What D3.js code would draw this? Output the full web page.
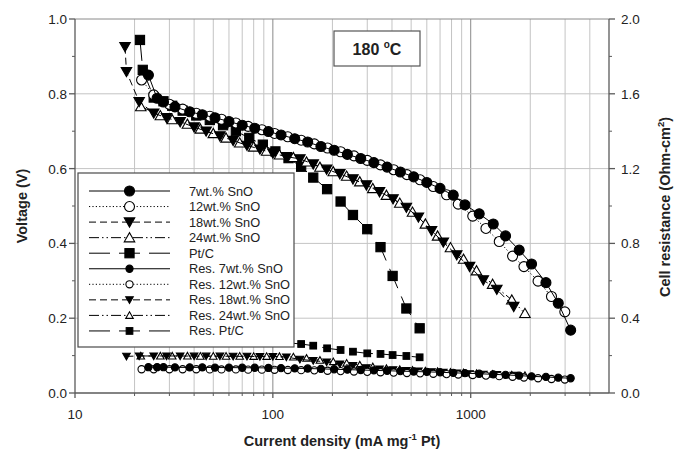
<!DOCTYPE html>
<html><head><meta charset="utf-8">
<script src="https://cdn.jsdelivr.net/npm/d3@7"></script>
<style>
body{margin:0;background:#fff}
svg{display:block}
text{font-family:"Liberation Sans",Arial,sans-serif;fill:#222}
</style>
</head><body>
<svg id="chart" width="679" height="453"></svg>
<script>
// ---- Polarization curves (voltage, V) ----
const cur7  = [23.5,26,28,32,38,44,51,60,70,81,95,110,129,150,175,204,238,278,324,378,441,515,600,700,816,935,1104,1300,1500,1758,2030,2400,2770,3200];
const volt7 = [0.850,0.788,0.778,0.765,0.752,0.744,0.736,0.726,0.716,0.708,0.699,0.690,0.680,0.671,0.659,0.649,0.638,0.627,0.616,0.604,0.591,0.578,0.563,0.547,0.529,0.503,0.479,0.452,0.420,0.382,0.345,0.295,0.240,0.168];

const cur12  = [21.7,25,30,35,41,48,55,65,75,88,102,119,139,162,189,220,257,300,350,408,476,555,647,755,865,1024,1194,1394,1628,1858,2190,2560,2990];
const volt12 = [0.837,0.797,0.772,0.759,0.748,0.740,0.732,0.722,0.713,0.704,0.694,0.685,0.676,0.666,0.655,0.645,0.634,0.622,0.610,0.597,0.584,0.570,0.552,0.530,0.505,0.473,0.440,0.405,0.366,0.338,0.299,0.258,0.217];

const cur18  = [17.9,18.2,21.1,25,29,34,40,46,54,63,74,86,100,117,137,160,187,218,254,297,346,405,473,544,634,727,850,987,1158,1355,1650];
const volt18 = [0.926,0.859,0.779,0.748,0.736,0.725,0.711,0.700,0.687,0.675,0.662,0.652,0.641,0.632,0.626,0.612,0.598,0.586,0.572,0.556,0.538,0.519,0.496,0.470,0.434,0.403,0.369,0.338,0.302,0.277,0.231];

const cur24  = [21.5,27,31,37,43,50,58,68,80,93,108,127,148,173,202,236,275,320,375,438,508,590,680,790,920,1070,1290,1613,1880];
const volt24 = [0.766,0.742,0.731,0.719,0.706,0.694,0.682,0.669,0.658,0.647,0.637,0.630,0.618,0.604,0.592,0.580,0.565,0.547,0.529,0.508,0.484,0.452,0.420,0.389,0.358,0.327,0.291,0.249,0.213];

const curPt  = [21.3,22,25,28,31,35,41,48,56,65,76,89,103,120,139,160,188,220,254,300,350,403,473,552];
const voltPt = [0.944,0.864,0.790,0.780,0.768,0.755,0.742,0.730,0.716,0.700,0.682,0.664,0.646,0.628,0.605,0.576,0.545,0.512,0.476,0.438,0.390,0.313,0.226,0.173];

// ---- Cell resistance (Ohm-cm2) ----
const res7   = [0.138,0.138,0.138,0.137,0.137,0.137,0.136,0.136,0.135,0.135,0.134,0.133,0.132,0.131,0.129,0.127,0.125,0.123,0.121,0.119,0.117,0.115,0.113,0.111,0.108,0.106,0.103,0.100,0.097,0.093,0.089,0.086,0.082,0.079];
const res12  = [0.127,0.127,0.127,0.127,0.127,0.126,0.126,0.126,0.125,0.125,0.124,0.123,0.122,0.121,0.119,0.117,0.115,0.113,0.111,0.109,0.107,0.105,0.103,0.101,0.099,0.096,0.093,0.090,0.087,0.083,0.079,0.075,0.072];

const resCur18 = [18.2,21.1,25,29,34,40,46,54,63,74,86,100,117,137,160,187,218,254,297,346,405,473,544,634,727,850,987,1158,1355,1650];
const res18    = [0.196,0.198,0.198,0.198,0.198,0.197,0.197,0.197,0.196,0.196,0.195,0.195,0.192,0.180,0.173,0.166,0.155,0.146,0.135,0.128,0.124,0.120,0.117,0.113,0.110,0.106,0.103,0.100,0.098,0.095];

const res24  = [0.198,0.198,0.198,0.198,0.197,0.197,0.197,0.197,0.196,0.196,0.195,0.193,0.186,0.175,0.168,0.160,0.150,0.140,0.131,0.126,0.122,0.118,0.115,0.111,0.108,0.104,0.100,0.097,0.094];

const resCurPt = [22,25,28,31,35,41,48,56,65,76,89,103,120,139,160,188,220,254,300,350,403,473,552];
const resPt    = [0.300,0.295,0.292,0.290,0.288,0.286,0.284,0.282,0.280,0.278,0.275,0.272,0.268,0.262,0.253,0.239,0.230,0.221,0.212,0.209,0.203,0.198,0.191];

// ---- Axis ticks ----
const xTickLabels = [10, 100, 1000];
const xMinorTicks = [20,30,40,50,60,70,80,90,200,300,400,500,600,700,800,900,2000,3000,4000];
const leftTicks  = [0.0,0.2,0.4,0.6,0.8,1.0];
const leftMinor  = [0.1,0.3,0.5,0.7,0.9];
const rightTicks = [0.0,0.4,0.8,1.2,1.6,2.0];
const rightMinor = [0.2,0.6,1.0,1.4,1.8];

const series = [
  {label:"7wt.% SnO",       cur:cur7,      val:volt7,  axis:"V", mark:"circle",   fill:true,  dash:null,              big:true},
  {label:"12wt.% SnO",      cur:cur12,     val:volt12, axis:"V", mark:"circle",   fill:false, dash:"1.2,2.2",         big:true},
  {label:"18wt.% SnO",      cur:cur18,     val:volt18, axis:"V", mark:"triDown",  fill:true,  dash:"7,4",             big:true},
  {label:"24wt.% SnO",      cur:cur24,     val:volt24, axis:"V", mark:"triUp",    fill:false, dash:"10,3,1.5,3,1.5,3", big:true},
  {label:"Pt/C",            cur:curPt,     val:voltPt, axis:"V", mark:"square",   fill:true,  dash:"21,9",            big:true},
  {label:"Res. 7wt.% SnO",  cur:cur7,      val:res7,   axis:"R", mark:"circle",   fill:true,  dash:null,              big:false},
  {label:"Res. 12wt.% SnO", cur:cur12,     val:res12,  axis:"R", mark:"circle",   fill:false, dash:"1.2,2.2",         big:false},
  {label:"Res. 18wt.% SnO", cur:resCur18,  val:res18,  axis:"R", mark:"triDown",  fill:true,  dash:"7,4",             big:false},
  {label:"Res. 24wt.% SnO", cur:cur24,     val:res24,  axis:"R", mark:"triUp",    fill:false, dash:"10,3,1.5,3,1.5,3", big:false},
  {label:"Res. Pt/C",       cur:resCurPt,  val:resPt,  axis:"R", mark:"square",   fill:true,  dash:"21,9",            big:false}
];

const svg = d3.select("#chart");
const L = 75, R = 609, T = 19, B = 393;
const x  = d3.scaleLog().domain([10, 5000]).range([L, R]);
const yV = d3.scaleLinear().domain([0, 1]).range([B, T]);
const yR = d3.scaleLinear().domain([0, 2]).range([B, T]);

// grid
const grid = svg.append("g");
grid.selectAll("line.vx").data(xMinorTicks).join("line")
  .attr("x1", d => x(d)).attr("x2", d => x(d)).attr("y1", T).attr("y2", B)
  .attr("stroke", "#c4c4c4").attr("stroke-width", 1);
grid.selectAll("line.vm").data([100, 1000]).join("line")
  .attr("x1", d => x(d)).attr("x2", d => x(d)).attr("y1", T).attr("y2", B)
  .attr("stroke", "#8a8a8a").attr("stroke-width", 1);
grid.selectAll("line.hy").data([0.2,0.4,0.6,0.8]).join("line")
  .attr("x1", L).attr("x2", R).attr("y1", d => yV(d)).attr("y2", d => yV(d))
  .attr("stroke", "#c4c4c4").attr("stroke-width", 1);

// marker drawing
function marker(g, type, fill, big, cx, cy) {
  const s = big ? 5 : 3.6;
  const style = el => el.attr("fill", fill ? "#000" : "#fff").attr("stroke", "#000").attr("stroke-width", 1.1);
  if (type === "circle") {
    style(g.append("circle").attr("cx", cx).attr("cy", cy).attr("r", s));
  } else if (type === "square") {
    const h = s * 0.92;
    style(g.append("rect").attr("x", cx - h).attr("y", cy - h).attr("width", 2*h).attr("height", 2*h));
  } else if (type === "triDown") {
    const w = s * 1.05;
    style(g.append("path").attr("d", `M${cx-w},${cy-w*0.8}L${cx+w},${cy-w*0.8}L${cx},${cy+w*0.95}Z`));
  } else {
    const w = s * 1.05;
    style(g.append("path").attr("d", `M${cx-w},${cy+w*0.8}L${cx+w},${cy+w*0.8}L${cx},${cy-w*0.95}Z`));
  }
}

// data
const plot = svg.append("g");
series.slice().reverse().forEach(s => {
  const yy = s.axis === "V" ? yV : yR;
  const pts = s.cur.map((c, i) => [x(c), yy(s.val[i])]);
  plot.append("path").attr("d", d3.line()(pts))
    .attr("fill", "none").attr("stroke", "#000").attr("stroke-width", 1)
    .attr("stroke-dasharray", s.dash);
  const mg = plot.append("g");
  pts.forEach(p => marker(mg, s.mark, s.fill, s.big, p[0], p[1]));
});

// axes
const ax = svg.append("g").attr("stroke", "#5a5a5a").attr("stroke-width", 1.3);
ax.append("line").attr("x1", L).attr("x2", R).attr("y1", B).attr("y2", B);
ax.append("line").attr("x1", L).attr("x2", R).attr("y1", T).attr("y2", T).attr("stroke","#8a8a8a").attr("stroke-width",1);
ax.append("line").attr("x1", L).attr("x2", L).attr("y1", T).attr("y2", B);
ax.append("line").attr("x1", R).attr("x2", R).attr("y1", T).attr("y2", B);
xTickLabels.forEach(v => ax.append("line").attr("x1", x(v)).attr("x2", x(v)).attr("y1", B).attr("y2", B + 5));
xMinorTicks.forEach(v => ax.append("line").attr("x1", x(v)).attr("x2", x(v)).attr("y1", B).attr("y2", B + 3).attr("stroke-width", 1));
leftTicks.forEach(v => ax.append("line").attr("x1", L - 6).attr("x2", L).attr("y1", yV(v)).attr("y2", yV(v)));
leftMinor.forEach(v => ax.append("line").attr("x1", L - 3).attr("x2", L).attr("y1", yV(v)).attr("y2", yV(v)).attr("stroke-width", 1));
rightTicks.forEach(v => ax.append("line").attr("x1", R).attr("x2", R + 6).attr("y1", yR(v)).attr("y2", yR(v)));
rightMinor.forEach(v => ax.append("line").attr("x1", R).attr("x2", R + 3).attr("y1", yR(v)).attr("y2", yR(v)).attr("stroke-width", 1));

const fmt = d3.format(".1f");
const lab = svg.append("g").attr("font-size", 13.5);
xTickLabels.forEach(v => lab.append("text").attr("x", x(v)).attr("y", 419).attr("text-anchor", "middle").text(v));
leftTicks.forEach(v => lab.append("text").attr("x", 67).attr("y", yV(v) + 5).attr("text-anchor", "end").text(fmt(v)));
rightTicks.forEach(v => lab.append("text").attr("x", 621).attr("y", yR(v) + 5).attr("text-anchor", "start").text(fmt(v)));

// axis titles
const xt = svg.append("text").attr("x", 342).attr("y", 446).attr("text-anchor", "middle")
  .attr("font-size", 14.5).attr("font-weight", "bold");
xt.append("tspan").text("Current density (mA mg");
xt.append("tspan").attr("dy", -6).attr("font-size", 9.5).text("-1");
xt.append("tspan").attr("dy", 6).text(" Pt)");

svg.append("text").attr("transform", "translate(27,206) rotate(-90)").attr("text-anchor", "middle")
  .attr("font-size", 14.5).attr("font-weight", "bold").text("Voltage (V)");

const rt = svg.append("text").attr("transform", "translate(670,207) rotate(-90)").attr("text-anchor", "middle")
  .attr("font-size", 14.5).attr("font-weight", "bold");
rt.append("tspan").text("Cell resistance (Ohm-cm");
rt.append("tspan").attr("dy", -6).attr("font-size", 9.5).text("2");
rt.append("tspan").attr("dy", 6).text(")");

// legend
const lg = svg.append("g");
lg.append("rect").attr("x", 78).attr("y", 173).attr("width", 216).attr("height", 174)
  .attr("fill", "#fff").attr("stroke", "#4a4a4a").attr("stroke-width", 1.2);
series.forEach((s, i) => {
  const yy = 191 + i * 15.55;
  lg.append("line").attr("x1", 89).attr("x2", 170).attr("y1", yy).attr("y2", yy)
    .attr("stroke", "#000").attr("stroke-width", 1).attr("stroke-dasharray", s.dash);
  marker(lg, s.mark, s.fill, s.big, 129.5, yy);
  lg.append("text").attr("x", 189).attr("y", yy + 4.5).attr("font-size", 12.8).text(s.label);
});

// temperature tag
const tag = svg.append("g");
tag.append("rect").attr("x", 334).attr("y", 31).attr("width", 86).attr("height", 35)
  .attr("fill", "#fff").attr("stroke", "#555").attr("stroke-width", 1.2);
const tt = tag.append("text").attr("x", 377).attr("y", 55).attr("text-anchor", "middle")
  .attr("font-size", 16).attr("font-weight", "bold");
tt.append("tspan").text("180 ");
tt.append("tspan").attr("dy", -7).attr("font-size", 10).text("o");
tt.append("tspan").attr("dy", 7).text("C");
</script>
</body></html>
